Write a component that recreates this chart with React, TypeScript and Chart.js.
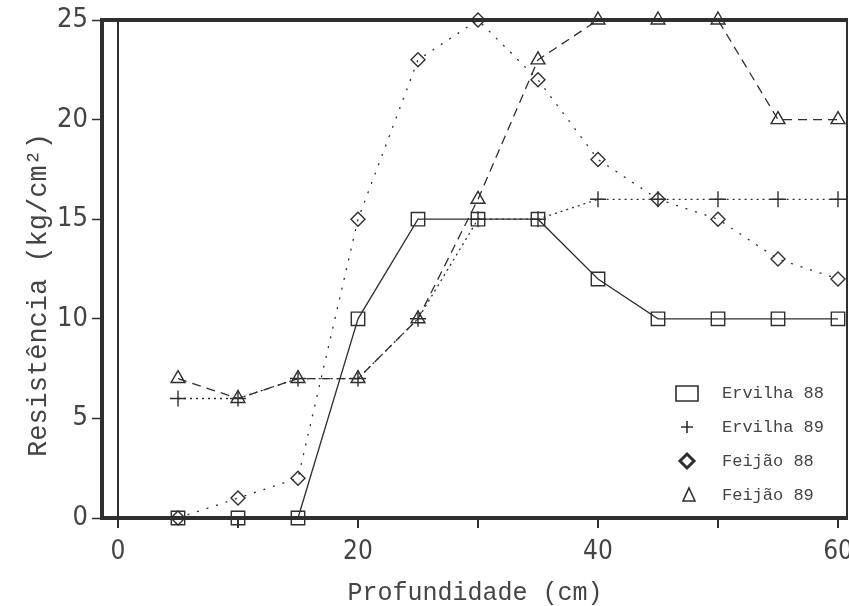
import React, { useEffect, useRef } from "react";
import { Chart, registerables } from "chart.js";

Chart.register(...registerables);

const depths = [5, 10, 15, 20, 25, 30, 35, 40, 45, 50, 55, 60];
const ervilha88 = [0, 0, 0, 10, 15, 15, 15, 12, 10, 10, 10, 10];
const ervilha89 = [6, 6, 7, 7, 10, 15, 15, 16, 16, 16, 16, 16];
const feijao88 = [0, 1, 2, 15, 23, 25, 22, 18, 16, 15, 13, 12];
const feijao89 = [7, 6, 7, 7, 10, 16, 23, 25, 25, 25, 20, 20];

const seriesLabels = ["Ervilha 88", "Ervilha 89", "Feijão 88", "Feijão 89"];
const xTicks = [0, 10, 20, 30, 40, 50, 60];
const xTickLabels = ["0", "", "20", "", "40", "", "60"];
const yTicks = [0, 5, 10, 15, 20, 25];
const xTitle = "Profundidade (cm)";
const yTitle = "Resistência (kg/cm²)";

const INK = "#2f2f2f";
const TEXT = "#444";
const TICK_FONT = "'Liberation Sans Narrow', 'DejaVu Sans Condensed', sans-serif";
const MONO = "'Liberation Mono', 'DejaVu Sans Mono', monospace";

const toPts = (ys: number[]) => ys.map((y, i) => ({ x: depths[i], y }));

const framePlugin = {
  id: "frame",
  beforeDatasetsDraw(chart: any) {
    const { ctx, chartArea: a } = chart;
    ctx.save();
    ctx.strokeStyle = INK;
    ctx.lineWidth = 4;
    ctx.beginPath();
    ctx.moveTo(a.right, a.top);
    ctx.lineTo(a.left, a.top);
    ctx.lineTo(a.left, a.bottom);
    ctx.lineTo(a.right, a.bottom);
    ctx.stroke();
    ctx.lineWidth = 2;
    ctx.beginPath();
    ctx.moveTo(a.right - 1, a.top);
    ctx.lineTo(a.right - 1, a.bottom);
    ctx.stroke();
    ctx.restore();
  },
};

const yTitlePlugin = {
  id: "yTitle",
  afterDraw(chart: any) {
    const { ctx } = chart;
    ctx.save();
    ctx.translate(39, 295);
    ctx.rotate(-Math.PI / 2);
    ctx.font = `27px ${MONO}`;
    ctx.fillStyle = TEXT;
    ctx.textAlign = "center";
    ctx.textBaseline = "middle";
    ctx.fillText(yTitle, 0, 0);
    ctx.restore();
  },
};

const legendPlugin = {
  id: "innerLegend",
  afterDraw(chart: any) {
    const { ctx } = chart;
    const rows = [393, 427, 461, 495];
    const sx = 687;
    ctx.save();
    ctx.strokeStyle = INK;
    ctx.fillStyle = TEXT;
    ctx.font = `17px ${MONO}`;
    ctx.textBaseline = "middle";
    ctx.textAlign = "left";
    chart.data.datasets.forEach((ds: any, i: number) => {
      const y = rows[i];
      ctx.lineWidth = 1.6;
      ctx.setLineDash([]);
      ctx.beginPath();
      if (ds.pointStyle === "rect") {
        ctx.rect(sx - 11, y - 7, 22, 15);
      } else if (ds.pointStyle === "cross") {
        ctx.moveTo(sx - 6, y);
        ctx.lineTo(sx + 6, y);
        ctx.moveTo(sx, y - 6);
        ctx.lineTo(sx, y + 6);
      } else if (ds.pointStyle === "rectRot") {
        ctx.lineWidth = 3;
        ctx.moveTo(sx, y - 7);
        ctx.lineTo(sx + 7, y);
        ctx.lineTo(sx, y + 7);
        ctx.lineTo(sx - 7, y);
        ctx.closePath();
      } else {
        ctx.moveTo(sx + 2, y - 7);
        ctx.lineTo(sx + 8, y + 6);
        ctx.lineTo(sx - 4, y + 6);
        ctx.closePath();
      }
      ctx.stroke();
      ctx.fillText(ds.label, 722, y);
    });
    ctx.restore();
  },
};

export default function App() {
  const ref = useRef<HTMLCanvasElement | null>(null);

  useEffect(() => {
    if (!ref.current) return;
    const common = {
      borderColor: INK,
      pointBorderColor: INK,
      pointBackgroundColor: "rgba(0,0,0,0)",
      pointBorderWidth: 1.4,
      borderWidth: 1.3,
      fill: false,
      tension: 0,
      clip: false as any,
    };
    const chart = new Chart(ref.current, {
      type: "line",
      data: {
        datasets: [
          { ...common, label: seriesLabels[0], data: toPts(ervilha88), pointStyle: "rect", pointRadius: 9.5, borderDash: [] },
          { ...common, label: seriesLabels[1], data: toPts(ervilha89), pointStyle: "cross", pointRadius: 8, borderDash: [2, 4] },
          { ...common, label: seriesLabels[2], data: toPts(feijao88), pointStyle: "rectRot", pointRadius: 7, borderDash: [2, 8] },
          { ...common, label: seriesLabels[3], data: toPts(feijao89), pointStyle: "triangle", pointRadius: 8, borderDash: [9, 6] },
        ],
      },
      options: {
        animation: false,
        responsive: false,
        layout: { autoPadding: false, padding: { left: 0, right: 1, top: 20, bottom: 0 } },
        plugins: { legend: { display: false }, tooltip: { enabled: false } },
        scales: {
          x: {
            type: "linear",
            min: -1.333,
            max: 60.833,
            border: { display: false },
            afterBuildTicks: (s: any) => {
              s.ticks = xTicks.map((v) => ({ value: v }));
            },
            afterFit: (s: any) => {
              s.height = 88;
              s.paddingLeft = 0;
              s.paddingRight = 0;
            },
            ticks: {
              autoSkip: false,
              maxRotation: 0,
              padding: 9,
              color: TEXT,
              font: { family: TICK_FONT, size: 26 },
              callback: (v: any) => {
                const i = xTicks.indexOf(Number(v));
                return i >= 0 ? xTickLabels[i] : "";
              },
            },
            grid: {
              drawOnChartArea: true,
              drawTicks: true,
              tickLength: 10,
              tickColor: INK,
              tickWidth: 2,
              lineWidth: 2,
              color: (c: any) => (c.tick && c.tick.value === 0 ? INK : "rgba(0,0,0,0)"),
            },
            title: {
              display: true,
              text: xTitle,
              color: TEXT,
              font: { family: MONO, size: 25, lineHeight: 1 },
              padding: { top: -4, bottom: 0 },
            },
          },
          y: {
            type: "linear",
            min: 0,
            max: 25,
            border: { display: false },
            afterBuildTicks: (s: any) => {
              s.ticks = yTicks.map((v) => ({ value: v }));
            },
            afterFit: (s: any) => {
              s.width = 102;
              s.paddingTop = 0;
              s.paddingBottom = 0;
            },
            ticks: {
              padding: 4,
              color: TEXT,
              font: { family: TICK_FONT, size: 27 },
              callback: (v: any) => String(v),
            },
            grid: {
              drawOnChartArea: false,
              drawTicks: true,
              tickLength: 10,
              tickColor: INK,
              tickWidth: 1.5,
            },
          },
        },
      },
      plugins: [framePlugin, yTitlePlugin, legendPlugin],
    } as any);
    return () => chart.destroy();
  }, []);

  return (
    <div style={{ position: "absolute", left: 0, top: 0, width: 849, height: 606, background: "#fff" }}>
      <canvas ref={ref} width={849} height={606} style={{ display: "block", width: 849, height: 606 }} />
    </div>
  );
}
